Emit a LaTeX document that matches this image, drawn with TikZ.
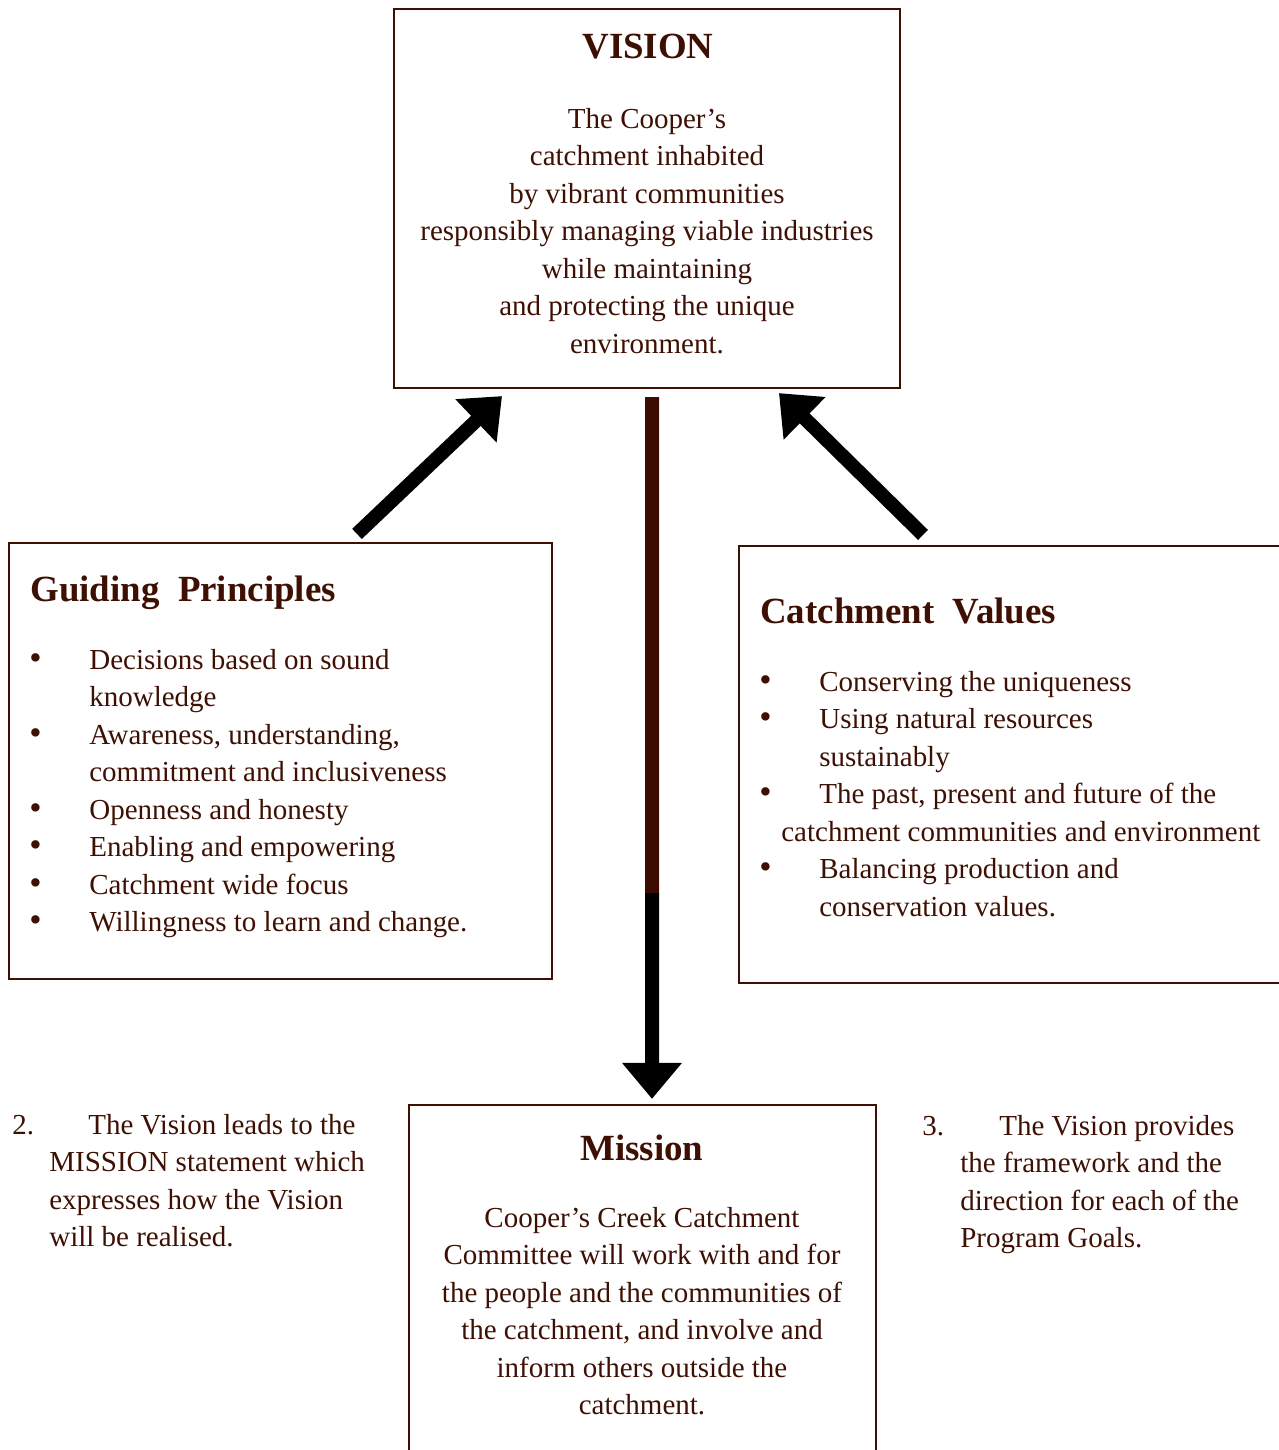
\documentclass[tikz,border=0pt]{standalone}
\usepackage{fontspec}
\setmainfont{Liberation Serif}
\usetikzlibrary{arrows.meta,positioning}
\definecolor{ink}{HTML}{3E1003}
\definecolor{shaftbrown}{HTML}{3D0C00}
\tikzset{
  box/.style={draw=ink, line width=1.3pt, inner sep=0pt},
  title/.style={text=ink, font=\fontsize{21}{25}\selectfont\bfseries, inner sep=0pt},
  body/.style={text=ink, font=\fontsize{16.5}{21.3}\selectfont, inner sep=0pt},
  bigarrow/.style={line width=0.28cm, -{Triangle[length=0.72cm,width=1.15cm]}},
  shaft/.style={draw=shaftbrown, line width=0.28cm},
}
\newcommand{\bul}{\makebox[1.2cm][l]{\fontsize{20}{21.3}\selectfont\textbullet}}
\newcommand{\ind}{\hspace*{1.2cm}}
\begin{document}
\begin{tikzpicture}[x=0.02cm,y=-0.02cm]
\useasboundingbox (0,0) rectangle (1278,1450);
% boxes
\node [box, minimum width=10.12cm, minimum height=7.58cm] (vision) at (647,198.5) {};
\node [box, minimum width=10.86cm, minimum height=8.72cm] (guide) at (280.5,761) {};
\node [box, minimum width=11.02cm, minimum height=8.74cm] (values) at (1014.5,764.5) {};
\node [box, minimum width=9.34cm, minimum height=7.3cm] (mission) at (642.5,1287.5) {};

% vision
\node [title, anchor=base] (visiontitle) at (648,58) {VISION};
\node [body, anchor=north, align=center] (visiontext) at (647,108) {The Cooper's\\catchment inhabited\\by vibrant communities\\responsibly managing viable industries\\while maintaining\\and protecting the unique\\environment.};

% guiding principles
\node [title, anchor=base west] (guidetitle) at (30,601) {Guiding\ \ Principles};
\node [body, anchor=north west, align=left] (guidelist) at (29,649) {\bul Decisions based on sound\\\ind knowledge\\\bul Awareness, understanding,\\\ind commitment and inclusiveness\\\bul Openness and honesty\\\bul Enabling and empowering\\\bul Catchment wide focus\\\bul Willingness to learn and change.};

% catchment values
\node [title, anchor=base west] (valuestitle) at (760,623) {Catchment\ \ Values};
\node [body, anchor=north west, align=left] (valueslist) at (759,671) {\bul Conserving the uniqueness\\\bul Using natural resources\\\ind sustainably\\\bul The past, present and future of the\\\hspace*{0.44cm}catchment communities and environment\\\bul Balancing production and\\\ind conservation values.};

% mission
\node [title, anchor=base] (missiontitle) at (642,1160) {Mission};
\node [body, anchor=north, align=center] (missiontext) at (642,1207) {Cooper's Creek Catchment\\Committee will work with and for\\the people and the communities of\\the catchment, and involve and\\inform others outside the\\catchment.};

% notes
\node [body, anchor=north west, align=left] (notetwo) at (12,1114) {\makebox[1.52cm][l]{2.}The Vision leads to the\\\hspace*{0.74cm}MISSION statement which\\\hspace*{0.74cm}expresses how the Vision\\\hspace*{0.74cm}will be realised.};
\node [body, anchor=north west, align=left] (notethree) at (922,1115) {\makebox[1.54cm][l]{3.}The Vision provides\\\hspace*{0.76cm}the framework and the\\\hspace*{0.76cm}direction for each of the\\\hspace*{0.76cm}Program Goals.};

% arrows
\draw [bigarrow] ([xshift=1.53cm,yshift=0.16cm]guide.north) -- ([xshift=-2.9cm,yshift=-0.14cm]vision.south);
\draw [bigarrow] ([xshift=-1.83cm,yshift=0.2cm]values.north) -- ([xshift=2.64cm,yshift=-0.08cm]vision.south);
\coordinate (switch) at (652,893);
\draw [shaft] ([xshift=0.1cm,yshift=-0.16cm]vision.south) -- (switch);
\draw [bigarrow] (switch) -- ([xshift=0.19cm,yshift=0.1cm]mission.north);
\end{tikzpicture}
\end{document}
